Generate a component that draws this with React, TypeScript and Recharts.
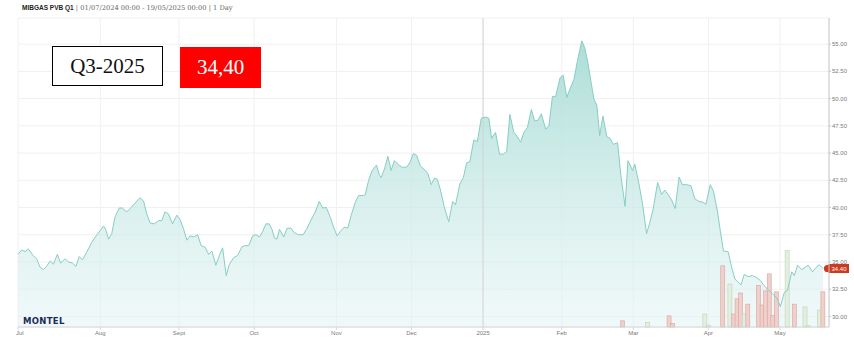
import React from 'react';
import {
  ComposedChart,
  Area,
  Line,
  Bar,
  Cell,
  XAxis,
  YAxis,
  CartesianGrid,
  ReferenceLine,
} from 'recharts';

// trading-session index (0 = 01/07/2024) of each price reading
const sessionDays = [
  0, 1.0, 2.0, 2.9, 4.2, 5.2, 6.2, 7.1, 8.0, 9.0,
  9.9, 11.0, 11.9, 13.2, 14.1, 15.2, 16.2, 17.1, 18.0, 19.2,
  20.6, 21.6, 23.0, 23.9, 24.5, 25.3, 26.2, 27.1, 28.3, 29.2,
  30.4, 31.6, 32.7, 34.1, 35.1, 36.0, 36.9, 38.1, 39.3, 40.2,
  41.1, 42.1, 43.2, 44.4, 45.3, 46.3, 47.2, 48.1, 49.1, 50.2,
  51.2, 52.3, 53.3, 54.2, 55.3, 56.3, 57.2, 58.2, 59.1, 60.3,
  61.4, 62.6, 63.5, 64.5, 65.6, 66.5, 67.5, 68.4, 69.3, 70.2,
  71.0, 71.7, 72.4, 73.1, 74.3, 75.2, 76.3, 77.2, 78.4, 79.7,
  80.8, 81.9, 83.1, 84.2, 85.2, 86.2, 87.3, 88.2, 89.2, 90.1,
  91.2, 92.2, 93.1, 94.3, 95.2, 96.5, 97.1, 98.0, 99.0, 100.2,
  101.0, 101.5, 102.4, 103.4, 104.3, 105.2, 106.4, 107.4, 108.6, 109.5,
  110.5, 111.4, 112.5, 113.9, 114.6, 115.5, 116.4, 117.2, 118.1, 119.2,
  120.4, 121.5, 122.3, 123.5, 124.5, 125.4, 126.3, 127.4, 128.4, 129.5,
  130.7, 131.6, 132.4, 133.5, 134.6, 135.7, 136.6, 137.5, 138.6, 139.6,
  140.5, 141.4, 142.4, 143.5, 144.4, 145.3, 146.3, 147.5, 148.4, 149.4,
  150.3, 151.5, 152.4, 153.4, 154.3, 155.4, 156.4, 157.6, 158.4, 159.3,
  160.3, 161.0, 161.8, 162.6, 163.5, 164.6, 165.5, 166.4, 167.6, 168.5,
  169.7, 170.5, 171.8, 172.4, 173.6, 174.6, 175.7, 176.6, 177.5, 178.8,
  179.9, 180.8, 181.7, 182.7, 183.7, 184.8, 185.7, 186.9, 188.1, 189.2,
  190.4, 191.4, 192.3, 193.5, 194.4, 195.5, 196.3, 197.2, 198.5, 199.5,
  200.4, 201.3, 202.1, 203.0, 204.1, 205.3, 206.3, 207.5, 208.4, 209.5,
  210.9, 212.1, 213.1, 214.2, 215.1, 216.3, 217.0, 217.9, 219.1, 220.0,
  220.9, 222.1, 223.1, 224.0, 225,
];

const prices = [
  35.7, 36.1, 35.95, 36.2, 35.6, 35.3, 34.5, 34.3, 34.6, 35.1,
  34.8, 35.7, 34.9, 35.3, 35.0, 34.9, 34.6, 35.5, 35.2, 35.9,
  36.8, 37.3, 37.9, 38.3, 38.0, 37.1, 37.6, 39.1, 39.95, 39.95,
  39.6, 40.0, 40.4, 40.9, 40.6, 39.4, 38.6, 38.5, 38.8, 38.8,
  39.6, 39.4, 38.5, 39.3, 38.9, 38.0, 37.0, 37.4, 37.3, 37.5,
  36.5, 36.35, 35.7, 36.0, 34.7, 35.6, 36.3, 33.75, 34.8, 35.4,
  35.6, 36.4, 36.5, 36.5, 37.4, 37.5, 37.3, 37.8, 38.5, 38.5,
  38.0, 37.2, 37.1, 38.0, 37.3, 38.1, 38.1, 37.7, 37.5, 37.5,
  38.1, 38.85, 39.6, 40.55, 39.95, 40.0, 39.1, 38.2, 37.4, 37.8,
  38.2, 38.1, 39.25, 40.5, 41.1, 41.1, 41.2, 42.5, 43.4, 43.9,
  43.0, 42.75, 43.5, 44.7, 43.4, 44.3, 43.9, 43.7, 43.7, 44.1,
  44.95, 44.8, 43.8, 43.4, 43.1, 42.1, 42.7, 42.6, 41.6, 40.0,
  38.7, 40.55, 40.25, 42.15, 42.75, 44.1, 44.2, 46.2, 46.05, 48.2,
  48.3, 48.2, 46.35, 46.9, 44.9, 44.9, 45.15, 48.55, 46.9, 46.5,
  46.0, 46.9, 47.35, 49.0, 47.95, 48.0, 48.6, 47.2, 47.5, 50.2,
  50.2, 51.9, 52.15, 50.1, 50.9, 51.75, 53.5, 55.3, 54.7, 53.3,
  51.3, 49.95, 49.4, 46.6, 48.4, 46.5, 46.35, 45.8, 45.95, 43.0,
  40.1, 44.3, 43.4, 44.0, 42.15, 40.3, 37.6, 38.6, 39.8, 42.3,
  41.2, 41.6, 41.2, 40.7, 39.9, 42.8, 42.1, 42.1, 42.0, 40.8,
  40.55, 40.5, 40.3, 42.1, 41.5, 39.7, 37.9, 36.0, 35.95, 34.5,
  33.45, 33.15, 32.9, 33.85, 33.65, 33.75, 33.6, 33.3, 32.9, 32.5,
  32.1, 31.7, 30.9, 32.2, 32.4, 34.1, 33.75, 34.7, 34.3, 34.5,
  34.7, 34.1, 34.5, 34.75, 34.4,
];

// volume bars (session index, size, rising day?)
const volumeDays = [169, 176, 182, 183, 192, 193, 197, 199, 200, 201, 202, 203, 204, 207, 208, 209, 210, 211, 212, 215, 217, 220, 221, 224, 225];
const volumes = [2.0, 1.5, 3.6, 1.2, 4.2, 0.6, 19.8, 13.9, 4.2, 9.1, 11.0, 4.2, 7.4, 13.5, 7.1, 11.7, 17.2, 3.8, 11.4, 24.7, 7.4, 6.5, 0.4, 5.5, 11.4];
const volumeUp = [false, true, false, false, true, true, false, true, false, false, false, true, false, false, false, false, false, false, false, true, false, true, true, true, false];

const monthStartDays = [0, 23, 45, 66, 89, 110, 130, 152, 172, 193, 213];
const monthLabels = ['Jul', 'Aug', 'Sept', 'Oct', 'Nov', 'Dec', '2025', 'Feb', 'Mar', 'Apr', 'May'];
const priceTicks = [30, 32.5, 35, 37.5, 40, 42.5, 45, 47.5, 50, 52.5, 55];
const lastPrice = 34.4;
const yearStartDay = 130;

type Row = { day: number; price?: number; vol?: number; up?: boolean };
const rowMap = new Map<number, Row>();
sessionDays.forEach((d, i) => rowMap.set(d, { day: d, price: prices[i] }));
volumeDays.forEach((d, i) => {
  const r: Row = rowMap.get(d) ?? { day: d };
  r.vol = volumes[i];
  r.up = volumeUp[i];
  rowMap.set(d, r);
});
const data: Row[] = Array.from(rowMap.values()).sort((a, b) => a.day - b.day);

const PriceTag = (props: any) => {
  const vb = props.viewBox || {};
  const x = (vb.x ?? 0) + (vb.width ?? 0);
  const y = (vb.y ?? 0) + (vb.height ?? 0) / 2;
  return (
    <g>
      <circle cx={x - 1.5} cy={y} r={3.6} fill="#cc3a1f" />
      <path d={`M${x - 5},${y} L${x},${y - 4.5} L${x + 20},${y - 4.5} L${x + 20},${y + 4.5} L${x},${y + 4.5} Z`} fill="#cc3a1f" />
      <text x={x + 10} y={y + 2.1} textAnchor="middle" fontSize={6} fill="#ffffff" fontFamily="Liberation Sans">
        {props.text}
      </text>
    </g>
  );
};

const VolBar = (p: any) => {
  if (p.height == null || !(p.height > 0) || p.x == null) return null;
  const cx = p.x + (p.width || 0) / 2;
  return (
    <rect x={cx - 2} y={p.y} width={4} height={p.height} fill={p.fill} stroke={p.stroke} strokeWidth={0.6} />
  );
};

const MonthTick = (p: any) => {
  const { x, y, payload, index } = p;
  const label = monthLabels[monthStartDays.indexOf(payload.value)] ?? '';
  const first = index === 0;
  return (
    <text
      x={first ? x - 2 : x}
      y={y}
      dy="0.71em"
      textAnchor={first ? 'start' : 'middle'}
      fontSize={6}
      fill="#7a7a7a"
      fontFamily="Liberation Sans"
    >
      {label}
    </text>
  );
};

const axisFont = { fontSize: 6, fill: '#7a7a7a', fontFamily: 'Liberation Sans' };

export default function App() {
  return (
    <div style={{ position: 'absolute', left: 0, top: 0, width: 854, height: 356, background: '#ffffff', overflow: 'hidden' }}>
      <div style={{ position: 'absolute', left: 16, top: 0, width: 838, height: 356, overflow: 'hidden' }}>
        <ComposedChart width={838} height={356} data={data} margin={{ top: 18, right: 0, bottom: 0, left: 2 }}>
          <defs>
            <linearGradient id="areaFill" x1="0" y1="0" x2="0" y2="1">
              <stop offset="0%" stopColor="#a8dcd5" stopOpacity={0.95} />
              <stop offset="100%" stopColor="#e4f4f4" stopOpacity={0.55} />
            </linearGradient>
          </defs>
          <CartesianGrid yAxisId="p" stroke="#f0f0f0" strokeWidth={1} />
          <XAxis
            type="number"
            dataKey="day"
            domain={[0, 226.7]}
            allowDataOverflow
            ticks={monthStartDays}
            interval={0}
            height={29}
            tickSize={3}
            tickMargin={1}
            tick={<MonthTick />}
            stroke="#d6d6d6"
          />
          <YAxis
            yAxisId="p"
            orientation="right"
            domain={[29.03, 57.4]}
            allowDataOverflow
            ticks={priceTicks}
            interval={0}
            tickFormatter={(v: number) => v.toFixed(2)}
            width={25}
            tickSize={2}
            tickMargin={1}
            tick={axisFont}
            stroke="#c8c8c8"
          />
          <YAxis yAxisId="v" hide domain={[0, 100]} />
          <ReferenceLine yAxisId="p" x={yearStartDay} stroke="#d4d4d4" strokeWidth={1} />
          <Area
            yAxisId="p"
            dataKey="price"
            type="linear"
            stroke="none"
            fill="url(#areaFill)"
            fillOpacity={1}
            connectNulls
            isAnimationActive={false}
            activeDot={false}
          />
          <Bar yAxisId="v" dataKey="vol" barSize={4} shape={<VolBar />} isAnimationActive={false}>
            {data.map((r, i) => (
              <Cell
                key={i}
                fill={r.up ? '#e4efe1' : '#efd0cc'}
                stroke={r.up ? '#bcd3b6' : '#d9a49d'}
              />
            ))}
          </Bar>
          <Line
            yAxisId="p"
            dataKey="price"
            type="linear"
            stroke="#86cec5"
            strokeWidth={1}
            dot={false}
            activeDot={false}
            connectNulls
            isAnimationActive={false}
          />
          <ReferenceLine
            yAxisId="p"
            y={lastPrice}
            stroke="none"
            ifOverflow="visible"
            label={<PriceTag text={lastPrice.toFixed(2)} />}
          />
        </ComposedChart>
      </div>

      <div style={{ position: 'absolute', left: 22, top: 0, whiteSpace: 'nowrap', lineHeight: '9px' }}>
        <span style={{ fontFamily: 'Liberation Sans', fontWeight: 'bold', fontSize: 6.5, color: '#222' }}>MIBGAS PVB Q1</span>
        <span style={{ fontFamily: 'DejaVu Serif', fontSize: 6.7, color: '#666' }}> | 01/07/2024 00:00 - 19/05/2025 00:00 | 1 Day</span>
      </div>

      <div style={{ position: 'absolute', left: 23, top: 317, fontFamily: 'DejaVu Sans', fontWeight: 'bold', fontSize: 8.5, lineHeight: 1, letterSpacing: 0.3, color: '#1c2b5a' }}>
        MONTEL
      </div>

      <div style={{ position: 'absolute', left: 52, top: 46, width: 111, height: 40, boxSizing: 'border-box', border: '1px solid #000', background: '#fff', display: 'flex', alignItems: 'center', justifyContent: 'center', fontFamily: 'Liberation Serif', fontSize: 21, color: '#111' }}>
        Q3-2025
      </div>
      <div style={{ position: 'absolute', left: 180, top: 47, width: 81, height: 41, background: '#ff0000', display: 'flex', alignItems: 'center', justifyContent: 'center', fontFamily: 'Liberation Serif', fontSize: 21, color: '#fff' }}>
        34,40
      </div>
    </div>
  );
}
